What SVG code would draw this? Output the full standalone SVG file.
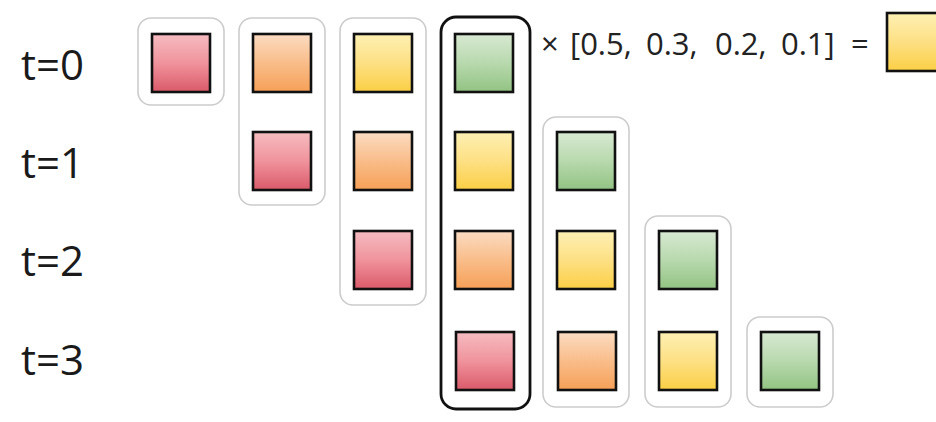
<svg xmlns="http://www.w3.org/2000/svg" width="936" height="422" viewBox="0 0 936 422">
<defs>
<linearGradient id="gRed" x1="0" y1="0" x2="0" y2="1"><stop offset="0" stop-color="#f5bcc1"/><stop offset="0.5" stop-color="#f0939c"/><stop offset="1" stop-color="#da5a6a"/></linearGradient>
<linearGradient id="gOrange" x1="0" y1="0" x2="0" y2="1"><stop offset="0" stop-color="#fbdcc2"/><stop offset="0.5" stop-color="#f9bd8a"/><stop offset="1" stop-color="#f6a057"/></linearGradient>
<linearGradient id="gYellow" x1="0" y1="0" x2="0" y2="1"><stop offset="0" stop-color="#fdf0b4"/><stop offset="0.5" stop-color="#fde084"/><stop offset="1" stop-color="#fbcf45"/></linearGradient>
<linearGradient id="gGreen" x1="0" y1="0" x2="0" y2="1"><stop offset="0" stop-color="#d8e9d2"/><stop offset="0.5" stop-color="#b8d9ae"/><stop offset="1" stop-color="#92c382"/></linearGradient>
</defs>
<style>
.lbl{font-family:"Open Sans","Liberation Sans",Arial,sans-serif;font-size:42px;fill:#1a1a1a}
.eq{font-family:"Open Sans","Liberation Sans",Arial,sans-serif;font-size:31px;fill:#222}
.grp{fill:none;stroke:#cccccc;stroke-width:1.6}
.bold{fill:none;stroke:#111;stroke-width:2.8}
.s{stroke:#111;stroke-width:2.6}
.r{fill:url(#gRed)}.o{fill:url(#gOrange)}.y{fill:url(#gYellow)}.g{fill:url(#gGreen)}
</style>
<rect width="936" height="422" fill="#ffffff"/>
<g id="labels">
<text class="lbl" x="21" y="80">t=0</text>
<text class="lbl" x="21" y="178">t=1</text>
<text class="lbl" x="21" y="276">t=2</text>
<text class="lbl" x="21" y="375">t=3</text>
</g>
<g id="groups">
<rect id="grp0" class="grp" x="138" y="18" width="86" height="87" rx="13"/>
<rect id="grp1" class="grp" x="239" y="18" width="86" height="187" rx="13"/>
<rect id="grp2" class="grp" x="340" y="18" width="86" height="287" rx="13"/>
<rect id="grp3" class="bold" x="441" y="17" width="89" height="392" rx="15"/>
<rect id="grp4" class="grp" x="543" y="117" width="86" height="290" rx="13"/>
<rect id="grp5" class="grp" x="645" y="216" width="86" height="191" rx="13"/>
<rect id="grp6" class="grp" x="747" y="317" width="86" height="90" rx="13"/>
</g>
<g id="row0">
<rect class="s r" x="152" y="34" width="58" height="58"/>
<rect class="s o" x="253" y="34" width="58" height="58"/>
<rect class="s y" x="354" y="34" width="58" height="58"/>
<rect class="s g" x="455" y="34" width="58" height="58"/>
</g>
<g id="row1">
<rect class="s r" x="253" y="132" width="58" height="58"/>
<rect class="s o" x="354" y="132" width="58" height="58"/>
<rect class="s y" x="455" y="132" width="58" height="58"/>
<rect class="s g" x="557" y="132" width="58" height="58"/>
</g>
<g id="row2">
<rect class="s r" x="354" y="231" width="58" height="58"/>
<rect class="s o" x="455" y="231" width="58" height="58"/>
<rect class="s y" x="557" y="231" width="58" height="58"/>
<rect class="s g" x="659" y="231" width="58" height="58"/>
</g>
<g id="row3">
<rect class="s r" x="456" y="332" width="58" height="58"/>
<rect class="s o" x="558" y="332" width="58" height="58"/>
<rect class="s y" x="659" y="332" width="58" height="58"/>
<rect class="s g" x="761" y="332" width="58" height="58"/>
</g>
<g id="equation">
<text class="eq" y="55"><tspan x="541">×</tspan><tspan x="570">[0.5,</tspan><tspan x="646">0.3,</tspan><tspan x="715">0.2,</tspan><tspan x="781">0.1]</tspan><tspan x="851">=</tspan></text>
<rect id="result" class="s y" x="887" y="13" width="58" height="58"/>
</g>
</svg>
